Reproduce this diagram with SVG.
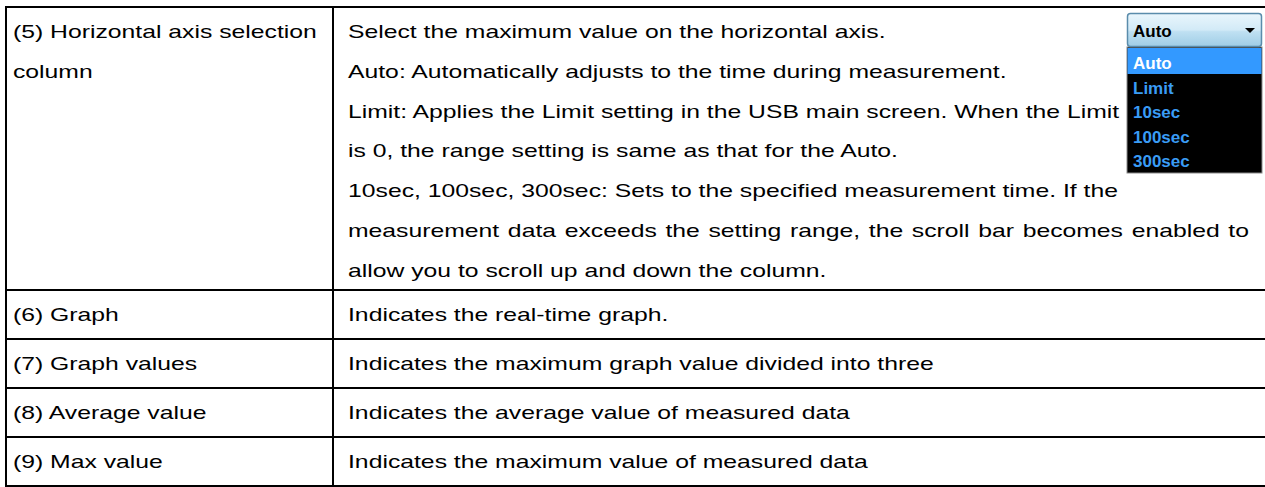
<svg xmlns="http://www.w3.org/2000/svg" width="1265" height="487" viewBox="0 0 1265 487">
<style>
.t{font-family:"Liberation Sans",Arial,sans-serif;font-size:18px;fill:#000}
.grid{stroke:#000;stroke-width:2;fill:none}
.dd{font-family:"Liberation Sans",Arial,sans-serif;font-size:17px;font-weight:bold}
.item{fill:#3a9cf5}
</style>
<defs>
<linearGradient id="hdr" x1="0" y1="0" x2="0" y2="1">
<stop offset="0" stop-color="#eaf6fc"/>
<stop offset="0.5" stop-color="#d2eaf7"/>
<stop offset="0.55" stop-color="#bfe0f2"/>
<stop offset="1" stop-color="#9fcde6"/>
</linearGradient>
</defs>
<rect width="1265" height="487" fill="#fff"/>
<g id="connectors" class="grid">
<line x1="5" y1="7" x2="1265" y2="7"/>
<line x1="6" y1="6" x2="6" y2="487"/>
<line x1="333" y1="7" x2="333" y2="487"/>
<line x1="5" y1="290" x2="1265" y2="290"/>
<line x1="5" y1="339" x2="1265" y2="339"/>
<line x1="5" y1="388" x2="1265" y2="388"/>
<line x1="5" y1="437" x2="1265" y2="437"/>
<line x1="5" y1="486" x2="1265" y2="486"/>
</g>
<g id="row5">
<text class="t" transform="translate(13 37.5) scale(1.375 1)">(5) Horizontal axis selection</text>
<text class="t" transform="translate(13 77.5) scale(1.375 1)">column</text>
<text class="t" transform="translate(348 37.5) scale(1.375 1)">Select the maximum value on the horizontal axis.</text>
<text class="t" transform="translate(348 77.5) scale(1.375 1)">Auto: Automatically adjusts to the time during measurement.</text>
<text class="t" transform="translate(348 117.5) scale(1.375 1)">Limit: Applies the Limit setting in the USB main screen. When the Limit</text>
<text class="t" transform="translate(348 157.4) scale(1.375 1)">is 0, the range setting is same as that for the Auto.</text>
<text class="t" transform="translate(348 197.3) scale(1.375 1)">10sec, 100sec, 300sec: Sets to the specified measurement time. If the</text>
<text class="t" word-spacing="1.3" transform="translate(348 237.2) scale(1.375 1)">measurement data exceeds the setting range, the scroll bar becomes enabled to</text>
<text class="t" transform="translate(348 277) scale(1.375 1)">allow you to scroll up and down the column.</text>
</g>
<g id="dropdown">
<rect x="1127" y="47" width="135" height="126" fill="#000" stroke="#8a8a8a" stroke-width="1"/>
<rect x="1127.5" y="48" width="134" height="26" fill="#3399ff"/>
<rect x="1127.5" y="13.5" width="134" height="33" rx="3" fill="url(#hdr)" stroke="#5a8cab" stroke-width="1.5"/>
<text class="dd" x="1133" y="37" fill="#000">Auto</text>
<path d="M1245 28 L1255 28 L1250 33 Z" fill="#000"/>
<text class="dd" x="1133" y="69" fill="#fff">Auto</text>
<text class="dd item" x="1133" y="94">Limit</text>
<text class="dd item" x="1133" y="118">10sec</text>
<text class="dd item" x="1133" y="143">100sec</text>
<text class="dd item" x="1133" y="167">300sec</text>
</g>
<g id="row6">
<text class="t" transform="translate(13 321) scale(1.375 1)">(6) Graph</text>
<text class="t" transform="translate(348 321) scale(1.375 1)">Indicates the real-time graph.</text>
</g>
<g id="row7">
<text class="t" transform="translate(13 370) scale(1.375 1)">(7) Graph values</text>
<text class="t" transform="translate(348 370) scale(1.375 1)">Indicates the maximum graph value divided into three</text>
</g>
<g id="row8">
<text class="t" transform="translate(13 419) scale(1.375 1)">(8) Average value</text>
<text class="t" transform="translate(348 419) scale(1.375 1)">Indicates the average value of measured data</text>
</g>
<g id="row9">
<text class="t" transform="translate(13 468) scale(1.375 1)">(9) Max value</text>
<text class="t" transform="translate(348 468) scale(1.375 1)">Indicates the maximum value of measured data</text>
</g>
</svg>
